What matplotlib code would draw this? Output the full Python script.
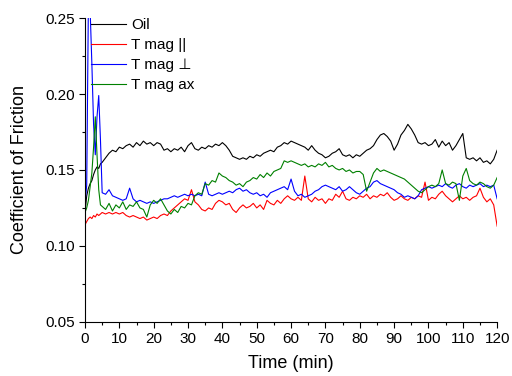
import matplotlib.pyplot as plt
from matplotlib.ticker import MultipleLocator

plt.rcParams['font.family'] = ['Liberation Sans', 'DejaVu Sans']

# time axis (min): fine steps for the first 5 min, then 1 min
t_start = [0, 0.5, 1, 1.5, 2, 2.5, 3, 3.5, 4, 4.5, 5]
t_rest = list(range(6, 121))
time = t_start + t_rest

oil = [0.122, 0.133, 0.138, 0.141, 0.143, 0.147, 0.150, 0.152, 0.151, 0.154, 0.155,
       0.158, 0.161, 0.163, 0.162, 0.165, 0.164, 0.166, 0.167, 0.165, 0.168,
       0.166, 0.169, 0.167, 0.168, 0.166, 0.168, 0.167, 0.163, 0.164, 0.162,
       0.164, 0.163, 0.165, 0.162, 0.166, 0.168, 0.164, 0.163, 0.165, 0.164,
       0.166, 0.165, 0.167, 0.166, 0.168, 0.166, 0.163, 0.159, 0.158, 0.157,
       0.158, 0.157, 0.159, 0.158, 0.160, 0.159, 0.161, 0.162, 0.163, 0.162,
       0.165, 0.166, 0.168, 0.167, 0.169, 0.168, 0.167, 0.166, 0.165, 0.163,
       0.166, 0.163, 0.161, 0.160, 0.158, 0.159, 0.161, 0.162, 0.164, 0.160,
       0.159, 0.160, 0.158, 0.160, 0.159, 0.161, 0.163, 0.164, 0.166, 0.170,
       0.173, 0.174, 0.172, 0.169, 0.163, 0.167, 0.173, 0.176, 0.180, 0.177,
       0.173, 0.168, 0.167, 0.168, 0.166, 0.167, 0.170, 0.165, 0.169, 0.166,
       0.168, 0.163, 0.166, 0.170, 0.174, 0.158, 0.157, 0.158, 0.156, 0.158,
       0.155, 0.156, 0.154, 0.157, 0.163]

t_par = [0.114, 0.116, 0.118, 0.119, 0.118, 0.120, 0.119, 0.121, 0.120, 0.121, 0.122,
         0.121, 0.122, 0.121, 0.122, 0.121, 0.122, 0.120, 0.119, 0.120, 0.119,
         0.118, 0.119, 0.117, 0.118, 0.119, 0.118, 0.120, 0.121, 0.120, 0.123,
         0.125, 0.127, 0.129, 0.131, 0.130, 0.137, 0.129, 0.127, 0.124, 0.123,
         0.125, 0.124, 0.128, 0.130, 0.129, 0.127, 0.128, 0.124, 0.122, 0.125,
         0.127, 0.125, 0.126, 0.128, 0.125, 0.127, 0.124, 0.130, 0.128, 0.127,
         0.130, 0.128, 0.131, 0.133, 0.131, 0.130, 0.132, 0.130, 0.146, 0.131,
         0.129, 0.132, 0.130, 0.131, 0.128, 0.131, 0.130, 0.134, 0.132, 0.136,
         0.131, 0.130, 0.132, 0.131, 0.133, 0.132, 0.134, 0.131, 0.133, 0.132,
         0.134, 0.133, 0.135, 0.132, 0.130, 0.131, 0.133, 0.131, 0.130, 0.132,
         0.131, 0.133, 0.132, 0.142, 0.130, 0.132, 0.131, 0.134, 0.136, 0.133,
         0.131, 0.129, 0.131, 0.133, 0.131, 0.132, 0.130, 0.132, 0.133, 0.138,
         0.132, 0.129, 0.131, 0.127, 0.113]

t_perp = [0.128, 0.140, 0.262, 0.255, 0.220, 0.180, 0.160, 0.185, 0.199, 0.170, 0.135,
          0.134, 0.137, 0.133, 0.132, 0.131, 0.130, 0.131, 0.138, 0.131, 0.129,
          0.130, 0.129, 0.128, 0.129, 0.128, 0.129, 0.130, 0.131, 0.131, 0.132,
          0.133, 0.132, 0.133, 0.134, 0.133, 0.134, 0.133, 0.134, 0.133, 0.142,
          0.134, 0.133, 0.134, 0.135, 0.134, 0.135, 0.136, 0.135, 0.137, 0.138,
          0.136, 0.137, 0.135, 0.134, 0.135, 0.133, 0.134, 0.132, 0.135, 0.136,
          0.137, 0.138, 0.139, 0.137, 0.144, 0.136, 0.133, 0.134, 0.132, 0.133,
          0.134, 0.136, 0.137, 0.139, 0.140, 0.139, 0.138, 0.137, 0.139, 0.136,
          0.137, 0.139, 0.137, 0.135, 0.134, 0.136, 0.138, 0.139, 0.142, 0.143,
          0.141, 0.140, 0.139, 0.138, 0.137, 0.135, 0.134, 0.132, 0.133, 0.132,
          0.131, 0.133, 0.137, 0.138, 0.139, 0.138, 0.139, 0.140, 0.139, 0.141,
          0.139, 0.138, 0.140, 0.141, 0.139, 0.138, 0.140, 0.139, 0.140, 0.141,
          0.139, 0.140, 0.139, 0.140, 0.131]

t_ax = [0.122, 0.125, 0.130, 0.139, 0.148, 0.165, 0.185, 0.160, 0.137, 0.127, 0.126,
        0.124, 0.128, 0.123, 0.127, 0.125, 0.129, 0.124, 0.127, 0.126, 0.129,
        0.125, 0.124, 0.119, 0.127, 0.130, 0.128, 0.131, 0.127, 0.123, 0.121,
        0.124, 0.122, 0.126, 0.125, 0.128, 0.127, 0.133, 0.135, 0.134, 0.141,
        0.140, 0.143, 0.142, 0.148, 0.146, 0.145, 0.143, 0.142, 0.140, 0.141,
        0.139, 0.142, 0.143, 0.145, 0.144, 0.147, 0.145, 0.148, 0.146, 0.149,
        0.150, 0.151, 0.156, 0.155, 0.156, 0.155, 0.154, 0.153, 0.154, 0.152,
        0.153, 0.152, 0.154, 0.153, 0.155, 0.152, 0.153, 0.151, 0.150, 0.151,
        0.149, 0.150, 0.148, 0.149, 0.149, 0.147, 0.136, 0.142, 0.148, 0.151,
        0.149, 0.150, 0.149, 0.148, 0.147, 0.146, 0.145, 0.144, 0.142, 0.140,
        0.138, 0.136, 0.135, 0.137, 0.139, 0.140, 0.139, 0.141, 0.150, 0.141,
        0.140, 0.142, 0.141, 0.130, 0.146, 0.151, 0.143, 0.141, 0.140, 0.142,
        0.141, 0.139, 0.138, 0.140, 0.145]

fig = plt.figure(figsize=(5.12, 3.76), dpi=100)
ax = fig.add_axes([0.166, 0.144, 0.805, 0.808])

ax.plot(time, oil, color='black', lw=0.8, label='Oil')
ax.plot(time, t_par, color='red', lw=0.8, label='T mag ||')
ax.plot(time, t_perp, color='blue', lw=0.8, label='T mag \u22a5')
ax.plot(time, t_ax, color='green', lw=0.8, label='T mag ax')

ax.set_xlim(0, 120)
ax.set_ylim(0.05, 0.25)
ax.xaxis.set_major_locator(MultipleLocator(10))
ax.xaxis.set_minor_locator(MultipleLocator(5))
ax.yaxis.set_major_locator(MultipleLocator(0.05))
ax.yaxis.set_minor_locator(MultipleLocator(0.025))
ax.yaxis.set_major_formatter(plt.FormatStrFormatter('%.2f'))
ax.tick_params(which='major', direction='out', length=4, width=0.8, labelsize=11)
ax.tick_params(which='minor', direction='out', length=2.5, width=0.8)
ax.spines['top'].set_visible(False)
ax.spines['right'].set_visible(False)

ax.set_xlabel('Time (min)', fontsize=13, labelpad=6)
ax.set_ylabel('Coefficient of Friction', fontsize=13, labelpad=12)

ax.legend(loc='upper left', bbox_to_anchor=(0.0, 1.02), frameon=False,
          handlelength=2.3, handletextpad=0.3, labelspacing=0.4, fontsize=11,
          borderaxespad=0)

fig.savefig('out.png', dpi=100)
